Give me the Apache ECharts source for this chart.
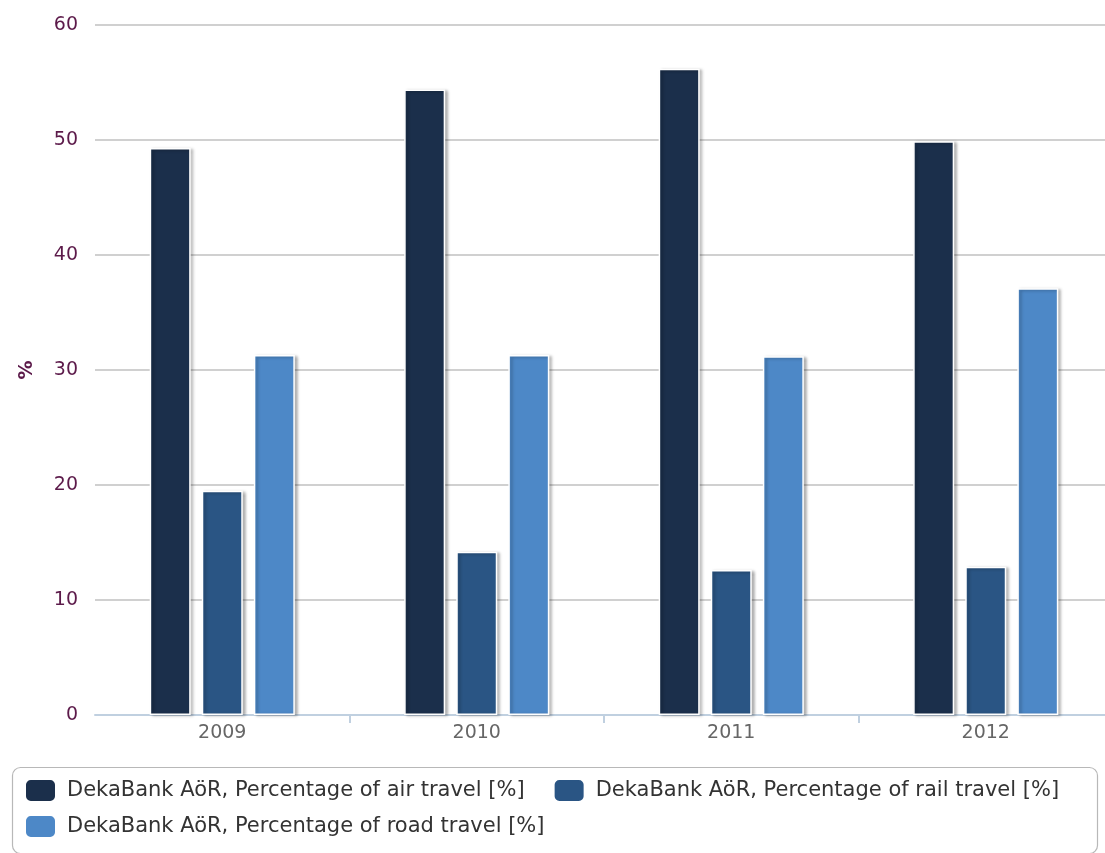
<!DOCTYPE html>
<html>
<head>
<meta charset="utf-8">
<script src="https://cdn.jsdelivr.net/npm/echarts@6/dist/echarts.min.js"></script>
<style>
  html, body { margin: 0; padding: 0; background: #fff; }
  #chart { width: 1105px; height: 853px; }
</style>
</head>
<body>
<div id="chart"></div>
<script>
// Travel mix of DekaBank AöR business trips, by year
const years = ['2009', '2010', '2011', '2012'];
const airTravel = [49.3, 54.4, 56.2, 49.9];
const railTravel = [19.5, 14.2, 12.6, 12.9];
const roadTravel = [31.3, 31.3, 31.2, 37.1];
const seriesNames = [
  'DekaBank AöR, Percentage of air travel [%]',
  'DekaBank AöR, Percentage of rail travel [%]',
  'DekaBank AöR, Percentage of road travel [%]'
];
const colors = ['#1b2f4b', '#2a5584', '#4d88c7'];

const FONT = 'DejaVu Sans';

function barSeries(name, data, color) {
  return {
    name: name,
    type: 'bar',
    data: data,
    barWidth: 41,
    barGap: '27%',
    itemStyle: {
      color: color,
      borderColor: '#ffffff',
      borderWidth: 1.5,
      shadowColor: 'rgba(0,0,0,0.3)',
      shadowBlur: 3,
      shadowOffsetX: 2.5,
      shadowOffsetY: 1
    }
  };
}

const chart = echarts.init(document.getElementById('chart'), null, { renderer: 'canvas' });
chart.setOption({
  animation: false,
  color: colors,
  // the plot runs a little past the right edge of the canvas
  grid: { left: 95, top: 25, width: 1018, height: 690, outerBoundsMode: 'none' },
  xAxis: {
    type: 'category',
    data: years,
    axisLine: { lineStyle: { color: '#c0d0e0', width: 2 } },
    axisTick: {
      show: true,
      length: 8,
      // only the separators between years
      interval: function (index) { return index !== 0; },
      lineStyle: { color: '#c0d0e0', width: 2 }
    },
    axisLabel: { color: '#666666', fontFamily: FONT, fontSize: 19, margin: 9 }
  },
  yAxis: {
    type: 'value',
    min: 0,
    max: 60,
    interval: 10,
    name: '%',
    nameLocation: 'middle',
    nameGap: 58,
    nameRotate: 90,
    nameTextStyle: { color: '#5c1a4a', fontFamily: FONT, fontSize: 19, fontWeight: 'bold' },
    axisLine: { show: false },
    axisTick: { show: false },
    axisLabel: { color: '#5c1a4a', fontFamily: FONT, fontSize: 19, margin: 17 },
    splitLine: { lineStyle: { color: '#c0c0c0', width: 1.5 } }
  },
  legend: [
    {
      data: [seriesNames[0], seriesNames[1]],
      left: 24,
      top: 778,
      padding: 0,
      itemGap: 28,
      itemWidth: 31,
      itemHeight: 23,
      icon: 'roundRect',
      textStyle: { color: '#333333', fontFamily: FONT, fontSize: 21, padding: [0, 0, 0, 6] }
    },
    {
      data: [seriesNames[2]],
      left: 24,
      top: 814,
      padding: 0,
      itemWidth: 31,
      itemHeight: 23,
      icon: 'roundRect',
      textStyle: { color: '#333333', fontFamily: FONT, fontSize: 21, padding: [0, 0, 0, 6] }
    }
  ],
  graphic: [
    {
      type: 'rect',
      left: 10,
      top: 765,
      shape: { width: 1085, height: 86, r: 8 },
      style: { fill: 'none', stroke: '#b8b8b8', lineWidth: 1.2 },
      silent: true,
      z: -1
    }
  ],
  series: [
    barSeries(seriesNames[0], airTravel, colors[0]),
    barSeries(seriesNames[1], railTravel, colors[1]),
    barSeries(seriesNames[2], roadTravel, colors[2])
  ]
});
</script>
</body>
</html>
